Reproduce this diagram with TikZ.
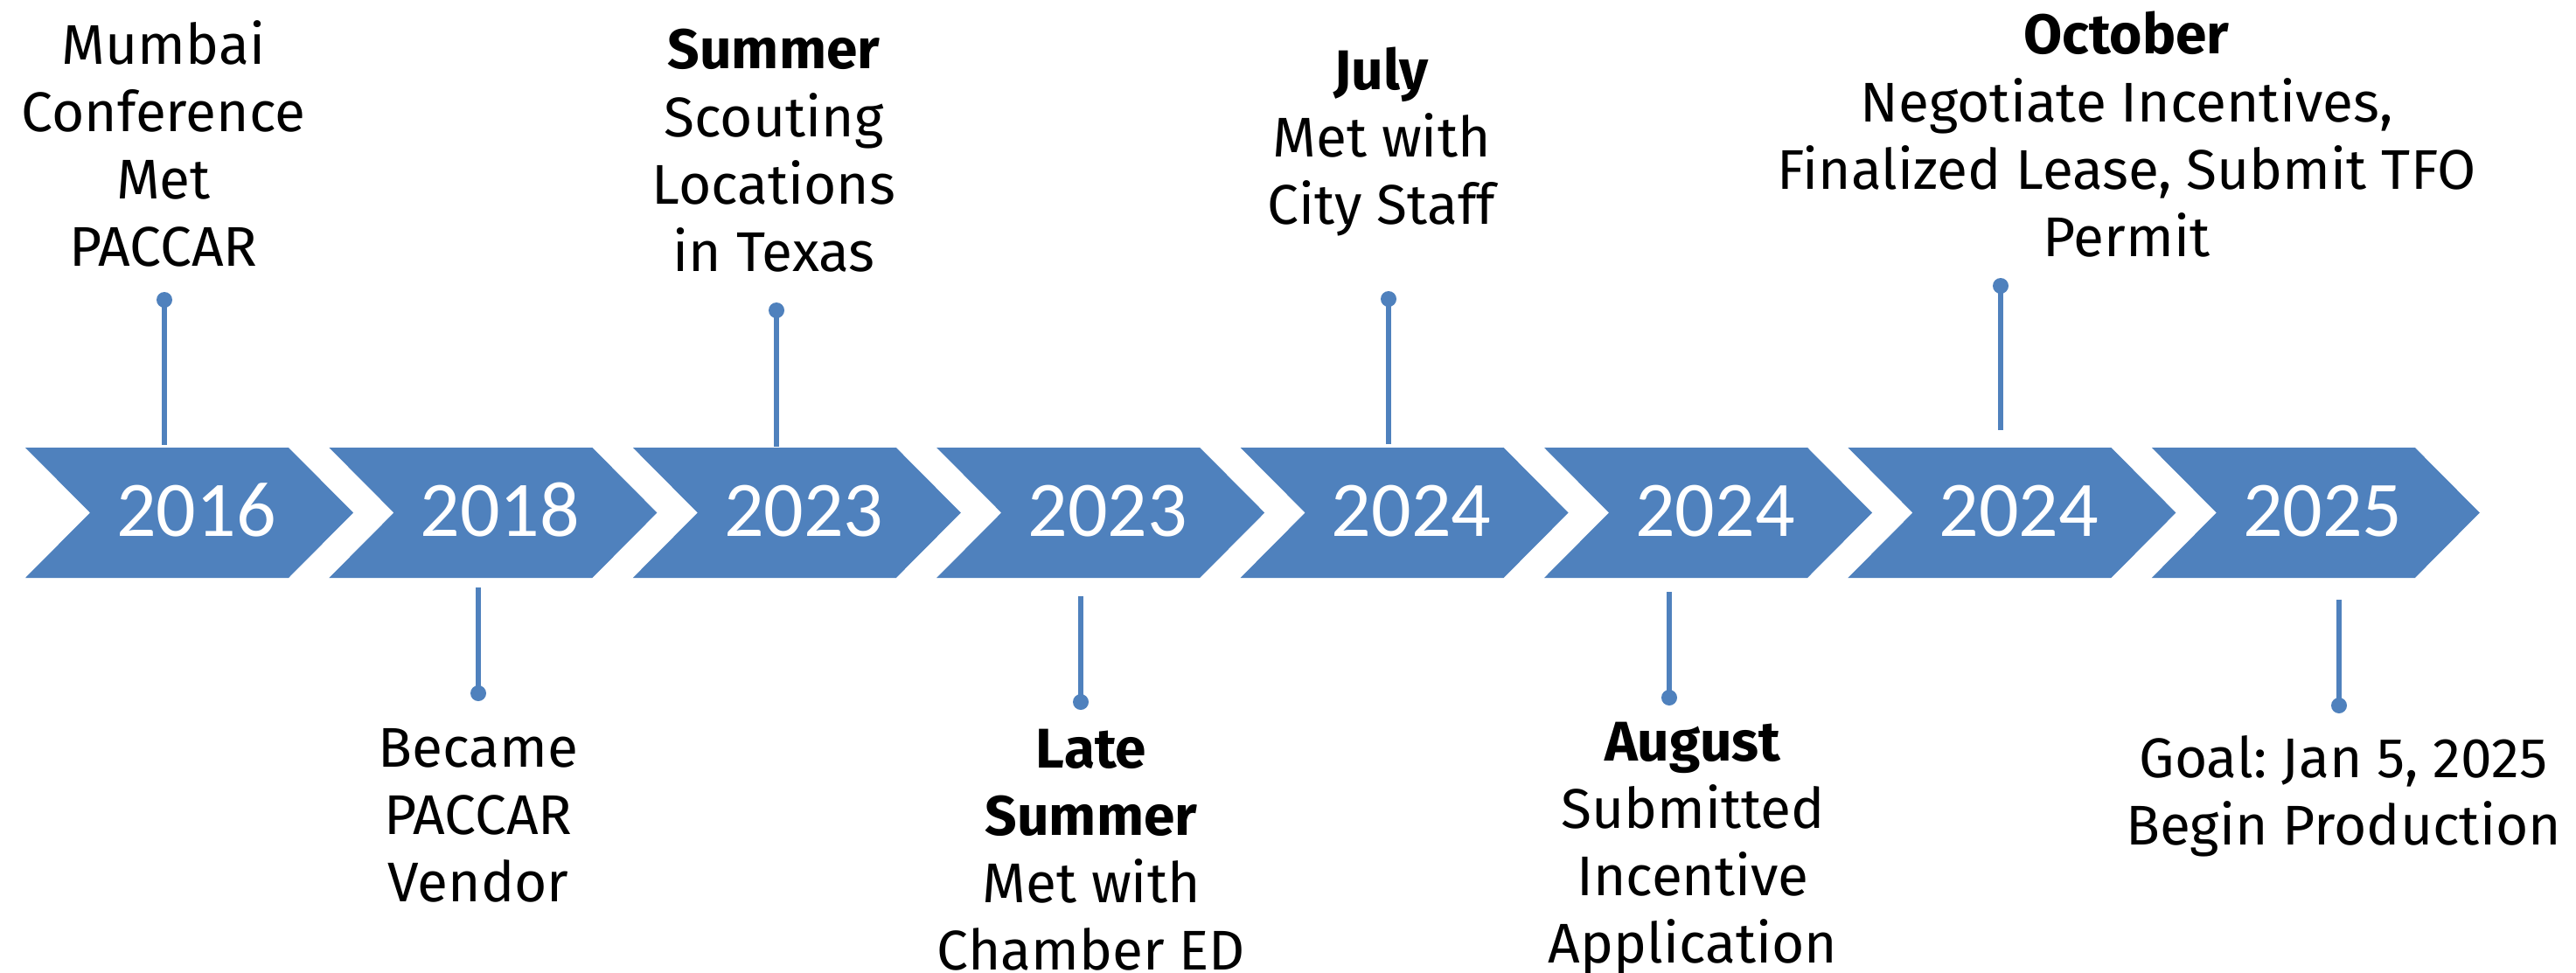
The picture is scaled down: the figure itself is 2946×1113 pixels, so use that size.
\documentclass[tikz,border=0pt]{standalone}
\usepackage{fontspec}
\setmainfont{Fira Sans}
\newfontfamily\yearfont{Carlito}
\definecolor{accent}{HTML}{4F81BD}
\frenchspacing
\newcommand\lblock[4]{%
  \foreach \t [count=\k from 0] in {#4} {
    \node[lbl] (#1-\k) at (#2, #3+77*\k) {\t};
  }%
}
\begin{document}
\begin{tikzpicture}[x=0.25pt,y=-0.25pt,
  year/.style={font=\yearfont\fontsize{22.5}{27}\selectfont, text=white, anchor=base, inner sep=0pt},
  lbl/.style={font=\fontsize{16}{19}\selectfont\frenchspacing, anchor=base, inner sep=0pt},
  stem/.style={draw=accent, line width=1.4pt},
  knob/.style={fill=accent}]
\useasboundingbox (0,0) rectangle (2946,1113);
\fill[white] (0,0) rectangle (2946,1113);
% chevrons
\foreach \yr [count=\i from 0] in {2016,2018,2023,2023,2024,2024,2024,2025} {
  \pgfmathsetmacro\L{29+347.4*\i}
  \fill[accent] (\L,512) -- ++(301,0) -- ++(74,74.5) -- ++(-74,74.5) -- ++(-301,0) -- ++(74,-74.5) -- cycle;
  \node[year] (yr\i) at (\L+195.5,613) {\yr};
}
% stems: dot coordinate d, chevron-side end e
\foreach \n/\x/\d/\e in {1/188/343/509, 2/547/793/672, 3/888/355/511, 4/1236/803/682,
                         5/1588/342/508, 6/1909/798/677, 7/2288/327/492, 8/2675/807/686} {
  \coordinate (d\n) at (\x,\d);
  \coordinate (e\n) at (\x,\e);
  \draw[stem] (d\n) -- (e\n);
  \fill[knob] (d\n) circle[radius=9];
}
% labels
\lblock{t1}{187}{73}{Mumbai, Conference, Met, PACCAR}
\lblock{t3}{885}{79}{\textbf{Summer}, Scouting, Locations, in Texas}
\lblock{t5}{1580}{102}{\textbf{July}, Met with, City Staff}
\lblock{t7}{2432}{62}{\textbf{October}, {Negotiate Incentives,}, {Finalized Lease, Submit TFO}, Permit}
\lblock{t2}{547}{877}{Became, PACCAR, Vendor}
\lblock{t4}{1248}{878}{\textbf{Late}, \textbf{Summer}, Met with, Chamber ED}
\lblock{t6}{1936}{870}{\textbf{August}, Submitted, Incentive, Application}
\lblock{t8}{2680}{889}{{Goal: Jan 5, 2025}, Begin Production}
\end{tikzpicture}
\end{document}
